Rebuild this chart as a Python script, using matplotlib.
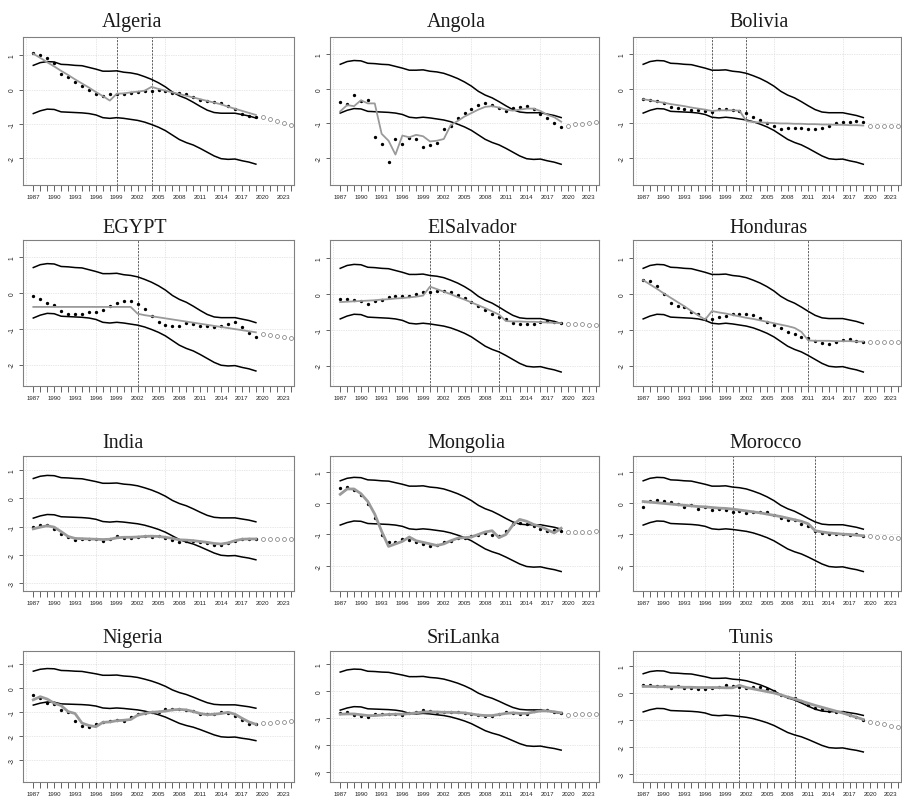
import matplotlib.pyplot as plt

# years of the observed series and of the forecast
years = list(range(1987, 2020))
fc_years = list(range(2020, 2025))
label_years = list(range(1987, 2024, 3))
grid_years = [1986, 1996, 2006, 2016]

# common band (same in every panel)
upper = [0.71, 0.79, 0.82, 0.81, 0.74, 0.73, 0.71, 0.70, 0.65, 0.60, 0.54, 0.54, 0.55,
         0.51, 0.49, 0.45, 0.38, 0.30, 0.20, 0.08, -0.07, -0.18, -0.26, -0.37, -0.49,
         -0.60, -0.67, -0.69, -0.69, -0.69, -0.73, -0.77, -0.83]
lower = [-0.70, -0.62, -0.57, -0.58, -0.65, -0.66, -0.67, -0.68, -0.70, -0.74, -0.82,
         -0.84, -0.82, -0.84, -0.87, -0.90, -0.95, -1.02, -1.10, -1.20, -1.33, -1.46,
         -1.55, -1.62, -1.72, -1.83, -1.94, -2.02, -2.04, -2.03, -2.08, -2.12, -2.18]

algeria_obs = [1.07, 1.00, 0.92, 0.77, 0.47, 0.36, 0.21, 0.11, 0.00, -0.12, -0.20, -0.14,
               -0.12, -0.12, -0.10, -0.07, -0.05, -0.04, -0.01, -0.04, -0.09, -0.10, -0.14,
               -0.21, -0.31, -0.33, -0.36, -0.40, -0.49, -0.57, -0.70, -0.77, -0.80]
algeria_fit = [1.05, 0.93, 0.80, 0.68, 0.55, 0.43, 0.30, 0.18, 0.06, -0.07, -0.19, -0.32,
               -0.12, -0.11, -0.08, -0.06, -0.03, 0.08, 0.02, -0.03, -0.08, -0.13, -0.18,
               -0.23, -0.28, -0.33, -0.38, -0.43, -0.50, -0.56, -0.62, -0.68, -0.74]
algeria_fc = [-0.81, -0.87, -0.93, -0.99, -1.03]
algeria_breaks = [1999, 2004]

angola_obs = [-0.38, -0.44, -0.19, -0.34, -0.33, -1.40, -1.60, -2.11, -1.46, -1.60, -1.43,
              -1.46, -1.67, -1.63, -1.56, -1.17, -1.06, -0.85, -0.71, -0.58, -0.47, -0.42,
              -0.46, -0.56, -0.63, -0.56, -0.52, -0.50, -0.57, -0.73, -0.85, -1.00, -1.11]
angola_fit = [-0.65, -0.47, -0.50, -0.33, -0.42, -0.42, -1.30, -1.50, -1.90, -1.35, -1.40,
              -1.33, -1.37, -1.52, -1.50, -1.45, -1.05, -0.93, -0.80, -0.70, -0.60, -0.52,
              -0.50, -0.54, -0.60, -0.63, -0.60, -0.57, -0.57, -0.64, -0.75, -0.82, -0.95]
angola_fc = [-1.06, -1.03, -1.01, -0.99, -0.97]
angola_breaks = []

bolivia_obs = [-0.28, -0.33, -0.35, -0.42, -0.52, -0.55, -0.57, -0.60, -0.62, -0.65, -0.66,
               -0.58, -0.57, -0.60, -0.64, -0.70, -0.80, -0.90, -1.00, -1.07, -1.15, -1.13,
               -1.12, -1.14, -1.15, -1.17, -1.12, -1.06, -0.98, -0.95, -0.95, -0.93, -0.95]
bolivia_fit = [-0.30, -0.33, -0.37, -0.40, -0.44, -0.47, -0.50, -0.54, -0.57, -0.60, -0.64,
               -0.62, -0.62, -0.62, -0.63, -0.93, -0.96, -0.97, -0.98, -0.99, -1.00, -1.00,
               -1.01, -1.01, -1.02, -1.02, -1.03, -1.03, -1.04, -1.04, -1.05, -1.05, -1.06]
bolivia_fc = [-1.07, -1.07, -1.07, -1.08, -1.08]
bolivia_breaks = [1997, 2002]

egypt_obs = [-0.09, -0.17, -0.27, -0.35, -0.51, -0.58, -0.60, -0.59, -0.53, -0.53, -0.49,
             -0.37, -0.27, -0.23, -0.23, -0.31, -0.45, -0.64, -0.82, -0.90, -0.93, -0.92,
             -0.85, -0.87, -0.91, -0.93, -0.96, -0.93, -0.87, -0.82, -0.96, -1.12, -1.23]
egypt_fit = [-0.39, -0.39, -0.39, -0.39, -0.39, -0.39, -0.39, -0.39, -0.39, -0.39, -0.39,
             -0.39, -0.39, -0.39, -0.39, -0.58, -0.62, -0.65, -0.68, -0.71, -0.74, -0.77,
             -0.80, -0.83, -0.86, -0.89, -0.92, -0.95, -0.98, -1.01, -1.04, -1.07, -1.10]
egypt_fc = [-1.14, -1.18, -1.21, -1.23, -1.27]
egypt_breaks = [2002]

elsalvador_obs = [-0.14, -0.14, -0.17, -0.20, -0.28, -0.20, -0.16, -0.10, -0.06, -0.07, -0.07,
                  0.00, 0.05, 0.06, 0.09, 0.07, 0.06, -0.03, -0.12, -0.22, -0.34, -0.45,
                  -0.56, -0.65, -0.71, -0.81, -0.85, -0.85, -0.84, -0.78, -0.77, -0.79, -0.80]
elsalvador_fit = [-0.23, -0.22, -0.21, -0.20, -0.19, -0.18, -0.16, -0.15, -0.13, -0.12, -0.10,
                  -0.08, -0.05, 0.20, 0.13, 0.06, -0.01, -0.09, -0.16, -0.24, -0.32, -0.40,
                  -0.49, -0.58, -0.76, -0.77, -0.77, -0.78, -0.78, -0.79, -0.80, -0.81, -0.82]
elsalvador_fc = [-0.84, -0.85, -0.85, -0.86, -0.87]
elsalvador_breaks = [2000, 2010]

honduras_obs = [0.39, 0.35, 0.21, 0.00, -0.27, -0.35, -0.38, -0.50, -0.57, -0.69, -0.71,
                -0.66, -0.62, -0.57, -0.55, -0.56, -0.59, -0.68, -0.78, -0.87, -0.96, -1.06,
                -1.11, -1.20, -1.23, -1.32, -1.38, -1.41, -1.34, -1.30, -1.27, -1.32, -1.35]
honduras_fit = [0.38, 0.26, 0.14, 0.01, -0.11, -0.23, -0.35, -0.48, -0.60, -0.72, -0.48,
                -0.52, -0.55, -0.59, -0.63, -0.67, -0.70, -0.74, -0.78, -0.82, -0.86, -0.90,
                -0.95, -1.06, -1.30, -1.31, -1.31, -1.31, -1.32, -1.32, -1.32, -1.33, -1.33]
honduras_fc = [-1.34, -1.34, -1.34, -1.34, -1.34]
honduras_breaks = [1997, 2011]

india_obs = [-1.00, -0.95, -0.95, -1.08, -1.26, -1.38, -1.46, -1.45, -1.45, -1.45, -1.52,
             -1.45, -1.34, -1.40, -1.40, -1.38, -1.33, -1.38, -1.35, -1.42, -1.46, -1.54,
             -1.50, -1.52, -1.54, -1.59, -1.64, -1.66, -1.57, -1.52, -1.45, -1.45, -1.45]
india_fit = [-1.08, -1.02, -0.97, -1.02, -1.18, -1.35, -1.42, -1.43, -1.44, -1.45, -1.46,
             -1.45, -1.40, -1.38, -1.38, -1.37, -1.35, -1.34, -1.35, -1.38, -1.42, -1.47,
             -1.48, -1.50, -1.53, -1.56, -1.60, -1.62, -1.58, -1.50, -1.45, -1.44, -1.44]
india_fc = [-1.44, -1.44, -1.44, -1.44, -1.44]
india_breaks = []

mongolia_obs = [0.47, 0.52, 0.43, 0.25, -0.04, -0.49, -1.01, -1.23, -1.23, -1.15, -1.17,
                -1.25, -1.30, -1.36, -1.33, -1.25, -1.21, -1.12, -1.12, -1.06, -1.02, -0.95,
                -1.02, -1.04, -0.89, -0.68, -0.62, -0.68, -0.72, -0.81, -0.90, -0.86, -0.88]
mongolia_fit = [0.28, 0.45, 0.45, 0.30, 0.05, -0.35, -0.90, -1.38, -1.30, -1.22, -1.08,
                -1.20, -1.25, -1.30, -1.35, -1.30, -1.20, -1.12, -1.10, -1.08, -1.00, -0.92,
                -0.88, -1.10, -1.00, -0.70, -0.52, -0.58, -0.68, -0.75, -0.85, -0.95, -0.80]
mongolia_fc = [-0.91, -0.93, -0.93, -0.92, -0.90]
mongolia_breaks = []

morocco_obs = [-0.12, 0.07, 0.10, 0.06, 0.02, -0.02, -0.13, -0.06, -0.19, -0.14, -0.23,
               -0.19, -0.21, -0.27, -0.25, -0.30, -0.28, -0.27, -0.28, -0.38, -0.47, -0.53,
               -0.53, -0.66, -0.72, -0.90, -0.94, -0.99, -0.97, -0.99, -1.01, -1.00, -1.04]
morocco_fit = [0.05, 0.03, 0.01, -0.01, -0.03, -0.05, -0.07, -0.09, -0.11, -0.12, -0.14,
               -0.16, -0.17, -0.19, -0.22, -0.25, -0.28, -0.31, -0.35, -0.39, -0.43, -0.48,
               -0.53, -0.58, -0.66, -0.88, -0.92, -0.95, -0.97, -0.99, -1.00, -1.02, -1.04]
morocco_fc = [-1.06, -1.08, -1.09, -1.10, -1.12]
morocco_breaks = [2000, 2012]

nigeria_obs = [-0.29, -0.40, -0.63, -0.67, -0.89, -0.97, -1.35, -1.56, -1.62, -1.50, -1.39,
               -1.38, -1.31, -1.35, -1.21, -1.07, -1.03, -1.00, -1.00, -0.88, -0.88, -0.86,
               -0.90, -0.96, -1.07, -1.07, -1.07, -1.00, -1.03, -1.17, -1.33, -1.47, -1.49]
nigeria_fit = [-0.48, -0.35, -0.45, -0.62, -0.72, -0.97, -1.05, -1.45, -1.55, -1.60, -1.42,
               -1.40, -1.35, -1.33, -1.30, -1.12, -1.05, -1.00, -0.98, -0.95, -0.90, -0.88,
               -0.90, -0.97, -1.05, -1.10, -1.08, -1.05, -1.00, -1.08, -1.25, -1.40, -1.50]
nigeria_fc = [-1.46, -1.44, -1.42, -1.39, -1.36]
nigeria_breaks = []

srilanka_obs = [-0.82, -0.77, -0.87, -0.90, -0.94, -0.86, -0.86, -0.86, -0.86, -0.88, -0.82,
                -0.76, -0.71, -0.72, -0.77, -0.77, -0.75, -0.78, -0.81, -0.86, -0.89, -0.93,
                -0.91, -0.84, -0.77, -0.80, -0.86, -0.83, -0.73, -0.71, -0.71, -0.77, -0.82]
srilanka_fit = [-0.85, -0.84, -0.84, -0.87, -0.90, -0.90, -0.88, -0.86, -0.85, -0.85, -0.83,
                -0.80, -0.77, -0.76, -0.77, -0.78, -0.78, -0.79, -0.80, -0.84, -0.88, -0.90,
                -0.90, -0.86, -0.82, -0.80, -0.82, -0.82, -0.77, -0.73, -0.73, -0.76, -0.80]
srilanka_fc = [-0.87, -0.86, -0.86, -0.83, -0.83]
srilanka_breaks = []

tunis_obs = [0.30, 0.30, 0.25, 0.25, 0.18, 0.25, 0.17, 0.17, 0.16, 0.16, 0.17, 0.21, 0.30,
             0.25, 0.23, 0.18, 0.22, 0.21, 0.15, 0.06, -0.06, -0.15, -0.18, -0.28, -0.44,
             -0.55, -0.60, -0.65, -0.69, -0.71, -0.80, -0.90, -0.99]
tunis_fit = [0.24, 0.24, 0.23, 0.23, 0.22, 0.22, 0.21, 0.21, 0.20, 0.20, 0.20, 0.20, 0.19,
             0.19, 0.28, 0.20, 0.15, 0.10, 0.05, 0.00, -0.07, -0.15, -0.22, -0.30, -0.38,
             -0.46, -0.53, -0.60, -0.67, -0.74, -0.82, -0.90, -0.98]
tunis_fc = [-1.06, -1.11, -1.16, -1.21, -1.26]
tunis_breaks = [2001, 2009]

names = ["Algeria", "Angola", "Bolivia", "EGYPT", "ElSalvador", "Honduras",
         "India", "Mongolia", "Morocco", "Nigeria", "SriLanka", "Tunis"]
obs_all = [algeria_obs, angola_obs, bolivia_obs, egypt_obs, elsalvador_obs, honduras_obs,
           india_obs, mongolia_obs, morocco_obs, nigeria_obs, srilanka_obs, tunis_obs]
fit_all = [algeria_fit, angola_fit, bolivia_fit, egypt_fit, elsalvador_fit, honduras_fit,
           india_fit, mongolia_fit, morocco_fit, nigeria_fit, srilanka_fit, tunis_fit]
fc_all = [algeria_fc, angola_fc, bolivia_fc, egypt_fc, elsalvador_fc, honduras_fc,
          india_fc, mongolia_fc, morocco_fc, nigeria_fc, srilanka_fc, tunis_fc]
breaks_all = [algeria_breaks, angola_breaks, bolivia_breaks, egypt_breaks, elsalvador_breaks,
              honduras_breaks, india_breaks, mongolia_breaks, morocco_breaks, nigeria_breaks,
              srilanka_breaks, tunis_breaks]
ylims = [(-2.79, 1.54), (-2.78, 1.50), (-2.78, 1.50),
         (-2.60, 1.48), (-2.57, 1.50), (-2.57, 1.50),
         (-3.29, 1.51), (-2.80, 1.50), (-2.80, 1.50),
         (-3.90, 1.55), (-3.36, 1.49), (-3.29, 1.55)]

# panel boxes in pixels (top, bottom) per row and (left, right) per column
W, H = 902, 803
rows = [(38, 186), (241, 387), (457, 592), (652, 783)]
cols = [(23, 294), (330, 599), (633, 901)]
title_x = [102, 427, 729]
title_base = [27, 233, 448, 643]

fig = plt.figure(figsize=(W / 100, H / 100), dpi=100)

for k, name in enumerate(names):
    r, c = divmod(k, 3)
    top, bot = rows[r]
    left, right = cols[c]
    ax = fig.add_axes([left / W, 1 - bot / H, (right - left) / W, (bot - top) / H])
    lo, hi = ylims[k]
    yt = [v for v in [-3, -2, -1, 0, 1] if lo < v < hi]

    for g in grid_years:
        ax.axvline(g, color='#d0d0d0', lw=0.5, ls=(0, (1, 1.5)), zorder=0)
    for v in yt:
        ax.axhline(v, color='#d0d0d0', lw=0.5, ls=(0, (1, 1.5)), zorder=0)

    ax.plot(years, upper, color='black', lw=1.1, zorder=2)
    ax.plot(years, lower, color='black', lw=1.1, zorder=2)
    lw_fit = 1.3 if r < 2 else 2.0
    ax.plot(years, obs_all[k], 'o', color='black', ms=2.4, mew=0, zorder=3)
    ax.plot(years, fit_all[k], color='#9a9a9a', lw=lw_fit, zorder=4)
    ax.plot(fc_years, fc_all[k], 'o', mfc='none', mec='#777777', ms=2.8, mew=0.5, zorder=3)
    for b in breaks_all[k]:
        ax.axvline(b, color='#444444', lw=0.6, ls=(0, (2.5, 1.5)), zorder=1)

    ax.set_xlim(1985.52, 2024.48)
    ax.set_ylim(lo, hi)
    ax.set_xticks(range(1987, 2025))
    ax.set_xticklabels([str(y) if y in label_years else '' for y in range(1987, 2025)],
                       fontsize=4.4, family='Liberation Sans')
    ax.set_yticks(yt)
    ax.set_yticklabels([str(v) for v in yt], fontsize=4.8, family='Liberation Sans',
                       rotation=90, va='center')
    ax.tick_params(axis='x', length=4, width=0.5, pad=2.5, colors='#222222')
    ax.tick_params(axis='y', length=3, width=0.5, pad=2.5, colors='#222222')
    for s in ax.spines.values():
        s.set_color('#808080')
        s.set_linewidth(0.8)

    fig.text(title_x[c] / W, 1 - title_base[r] / H, name, ha='left', va='baseline',
             fontsize=14.5, family='Liberation Serif', color='#1a1a1a')

fig.savefig('out.png', dpi=100)
